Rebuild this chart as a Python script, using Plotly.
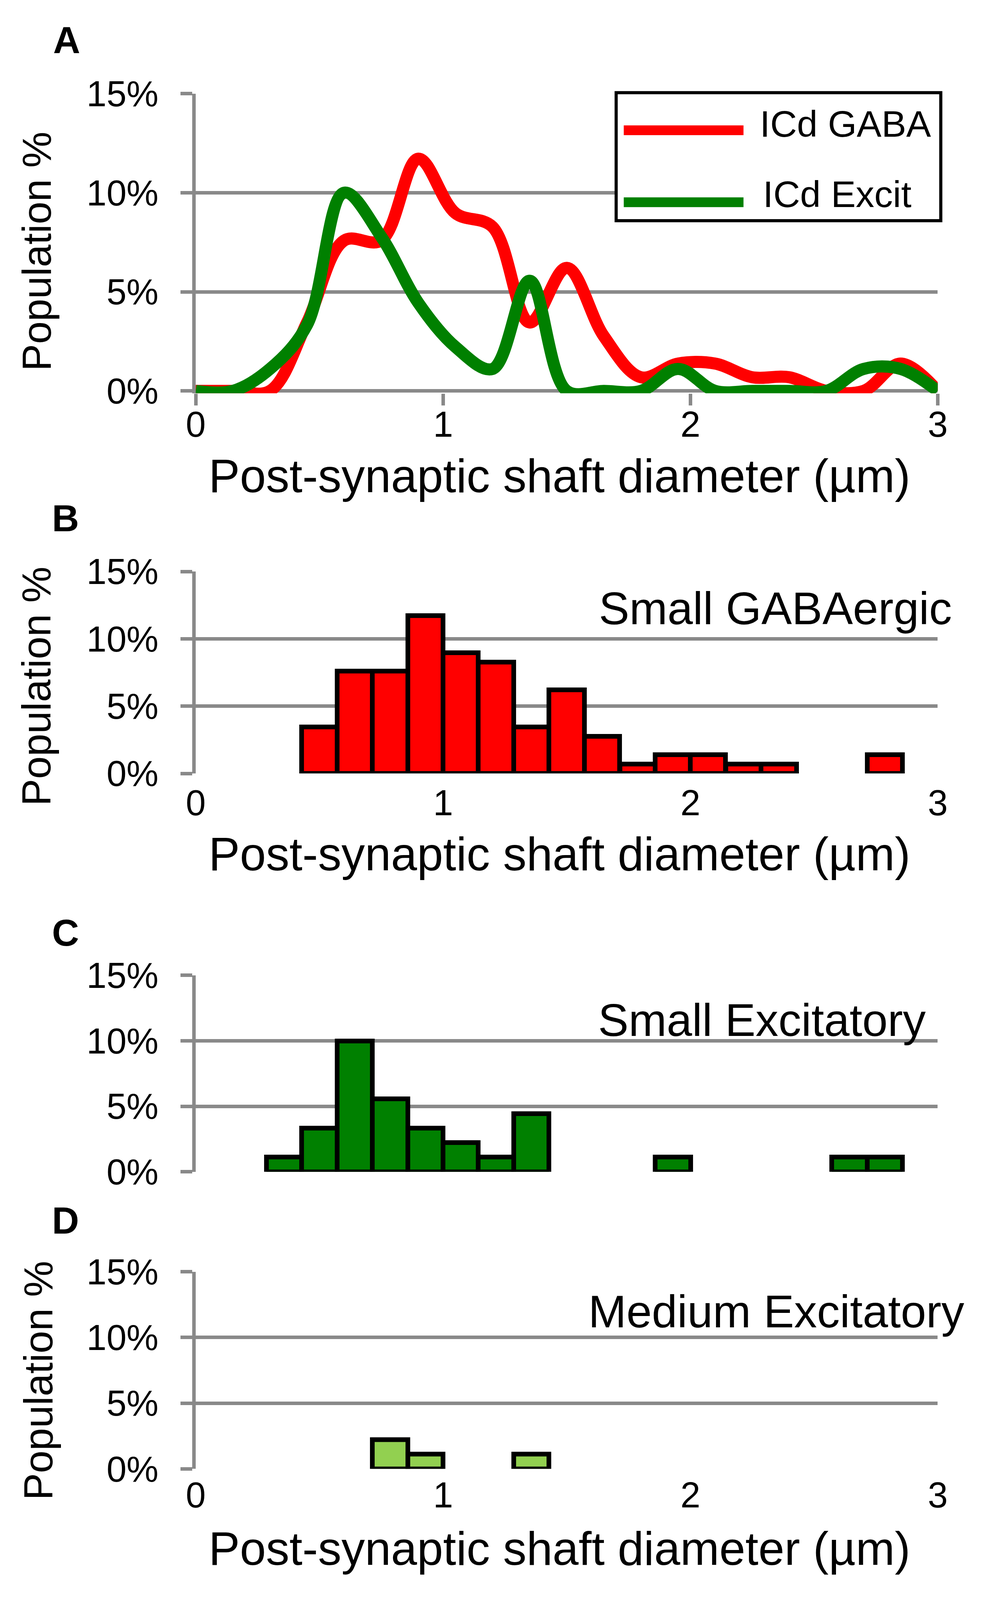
import plotly.graph_objects as go

W, H = 2524, 4709
GRAY = "#898989"
FONT = "Liberation Sans, Arial, sans-serif"

# ---- data ----
# A: smoothed distributions, points every 0.15 um
curve_x = [0, 0.15, 0.3, 0.45, 0.6, 0.75, 0.9, 1.05, 1.2, 1.35, 1.5,
           1.65, 1.8, 1.95, 2.1, 2.25, 2.4, 2.55, 2.7, 2.85, 3.0]
gaba_curve = [0, 0, 0, 3.45, 7.59, 7.59, 11.72, 8.97, 8.28, 3.45, 6.21,
              2.76, 0.69, 1.38, 1.38, 0.69, 0.69, 0, 0, 1.38, 0]
excit_curve = [0, 0, 1.11, 3.33, 10.0, 7.78, 4.44, 2.22, 1.11, 5.56, 0,
               0, 0, 1.11, 0, 0, 0, 0, 1.11, 1.11, 0]

# B-D: histograms, 21 bins between 0 and 3 um (bin centres)
bin_x = [0.071, 0.214, 0.357, 0.5, 0.643, 0.786, 0.929, 1.071, 1.214, 1.357, 1.5,
         1.643, 1.786, 1.929, 2.071, 2.214, 2.357, 2.5, 2.643, 2.786, 2.929]
small_gaba = [None, None, None, 3.45, 7.59, 7.59, 11.72, 8.97, 8.28, 3.45, 6.21,
              2.76, 0.69, 1.38, 1.38, 0.69, 0.69, None, None, 1.38, None]
small_excit = [None, None, 1.11, 3.33, 10.0, 5.56, 3.33, 2.22, 1.11, 4.44, None,
               None, None, 1.11, None, None, None, None, 1.11, 1.11, None]
medium_excit = [None, None, None, None, None, 2.22, 1.11, None, None, 1.11, None,
                None, None, None, None, None, None, None, None, None, None]

y_ticks = [0, 5, 10, 15]
y_labels = ["0%", "5%", "10%", "15%"]
x_ticks = [0, 1, 2, 3]
x_title = "Post-synaptic shaft diameter (µm)"
bin_w = 3 / 21


def px(x, y):
    return x / W, 1 - y / H


fig = go.Figure()

fig.add_trace(go.Scatter(x=curve_x, y=gaba_curve, mode="lines", name="ICd GABA",
                         line=dict(color="#FF0000", width=31, shape="spline", smoothing=1),
                         xaxis="x", yaxis="y", showlegend=False))
fig.add_trace(go.Scatter(x=curve_x, y=excit_curve, mode="lines", name="ICd Excit",
                         line=dict(color="#008000", width=31, shape="spline", smoothing=1),
                         xaxis="x", yaxis="y", showlegend=False))

for vals, col, ax in [(small_gaba, "#FF0000", "2"), (small_excit, "#008000", "3"),
                      (medium_excit, "#92D050", "4")]:
    fig.add_trace(go.Bar(x=bin_x, y=vals, width=bin_w, marker_color=col,
                         marker_line=dict(color="black", width=12),
                         xaxis="x" + ax, yaxis="y" + ax, showlegend=False,
                         cliponaxis=False))

xdom = [480 / W, 2432 / W]


def yax(top, bottom, rng, anchor):
    return dict(domain=[1 - bottom / H, 1 - top / H], range=rng, anchor=anchor,
                tickvals=y_ticks, ticktext=y_labels, showgrid=True, gridcolor=GRAY,
                gridwidth=9, showline=True, linecolor=GRAY, linewidth=9,
                ticks="outside", ticklen=30, tickwidth=9, tickcolor=GRAY,
                ticklabelstandoff=38,
                tickfont=dict(size=92, family=FONT, color="black"), zeroline=False)


def xax(anchor, labels=True, ticks="", standoff=0):
    return dict(domain=xdom, range=[0, 3], anchor=anchor, showgrid=False,
                zeroline=False, showline=False, tickvals=x_ticks,
                showticklabels=labels, ticks=ticks, ticklen=30, tickwidth=9,
                tickcolor=GRAY, ticklabelstandoff=standoff,
                tickfont=dict(size=92, family=FONT, color="black"))


# the page is photographed in whatever the window gives, so let the figure fill it
fig.update_layout(
    autosize=True, margin=dict(l=0, r=0, t=0, b=0),
    paper_bgcolor="white", plot_bgcolor="white", bargap=0,
    font=dict(family=FONT, color="black"),
    xaxis=xax("y", True, "outside", -30), yaxis=yax(214, 1122, [-0.12, 15], "x"),
    xaxis2=xax("y2", True, "", 14), yaxis2=yax(1662, 2274, [0, 15], "x2"),
    xaxis3=xax("y3", False), yaxis3=yax(2886, 3481, [0, 15], "x3"),
    xaxis4=xax("y4", True, "", 6), yaxis4=yax(3784, 4381.5, [0, 15], "x4"),
)

ann = []


def text(s, x, y, size, xanchor="center", bold=False, angle=0):
    xp, yp = px(x, y)
    ann.append(dict(text="<b>%s</b>" % s if bold else s, x=xp, y=yp, xref="paper",
                    yref="paper", xanchor=xanchor, yanchor="middle", showarrow=False,
                    textangle=angle, font=dict(size=size, family=FONT, color="black")))


# panel letters
text("A", 140, 51, 96, bold=True)
text("B", 137, 1501, 96, bold=True)
text("C", 137, 2756, 96, bold=True)
text("D", 137, 3629, 96, bold=True)

# axis titles
text(x_title, 1437, 1372, 120)
text(x_title, 1437, 2518, 120)
text(x_title, 1437, 4622, 120)
text("Population %", 61, 692, 104, angle=-90)
text("Population %", 61, 2010, 104, angle=-90)
text("Population %", 66, 4114, 104, angle=-90)

# panel captions
text("Small GABAergic", 2472, 1774, 117, xanchor="right")
text("Small Excitatory", 2403, 3022, 117, xanchor="right")
text("Medium Excitatory", 2504, 3905, 117, xanchor="right")

# legend of A
text("ICd GABA", 1962, 305, 95, xanchor="left")
text("ICd Excit", 1970, 519, 95, xanchor="left")

shapes = []
x0, y0 = px(1586, 599)
x1, y1 = px(2440, 211)
shapes.append(dict(type="rect", xref="paper", yref="paper", x0=x0, y0=y0, x1=x1, y1=y1,
                   line=dict(color="black", width=8), fillcolor="white", layer="above"))
for yy, col in [(325, "#FF0000"), (543, "#008000")]:
    a, b = px(1606, yy)
    c, _ = px(1921, yy)
    shapes.append(dict(type="line", xref="paper", yref="paper", x0=a, y0=b, x1=c, y1=b,
                       line=dict(color=col, width=25), layer="above"))

fig.update_layout(annotations=ann, shapes=shapes)

fig.write_html("out.html")
